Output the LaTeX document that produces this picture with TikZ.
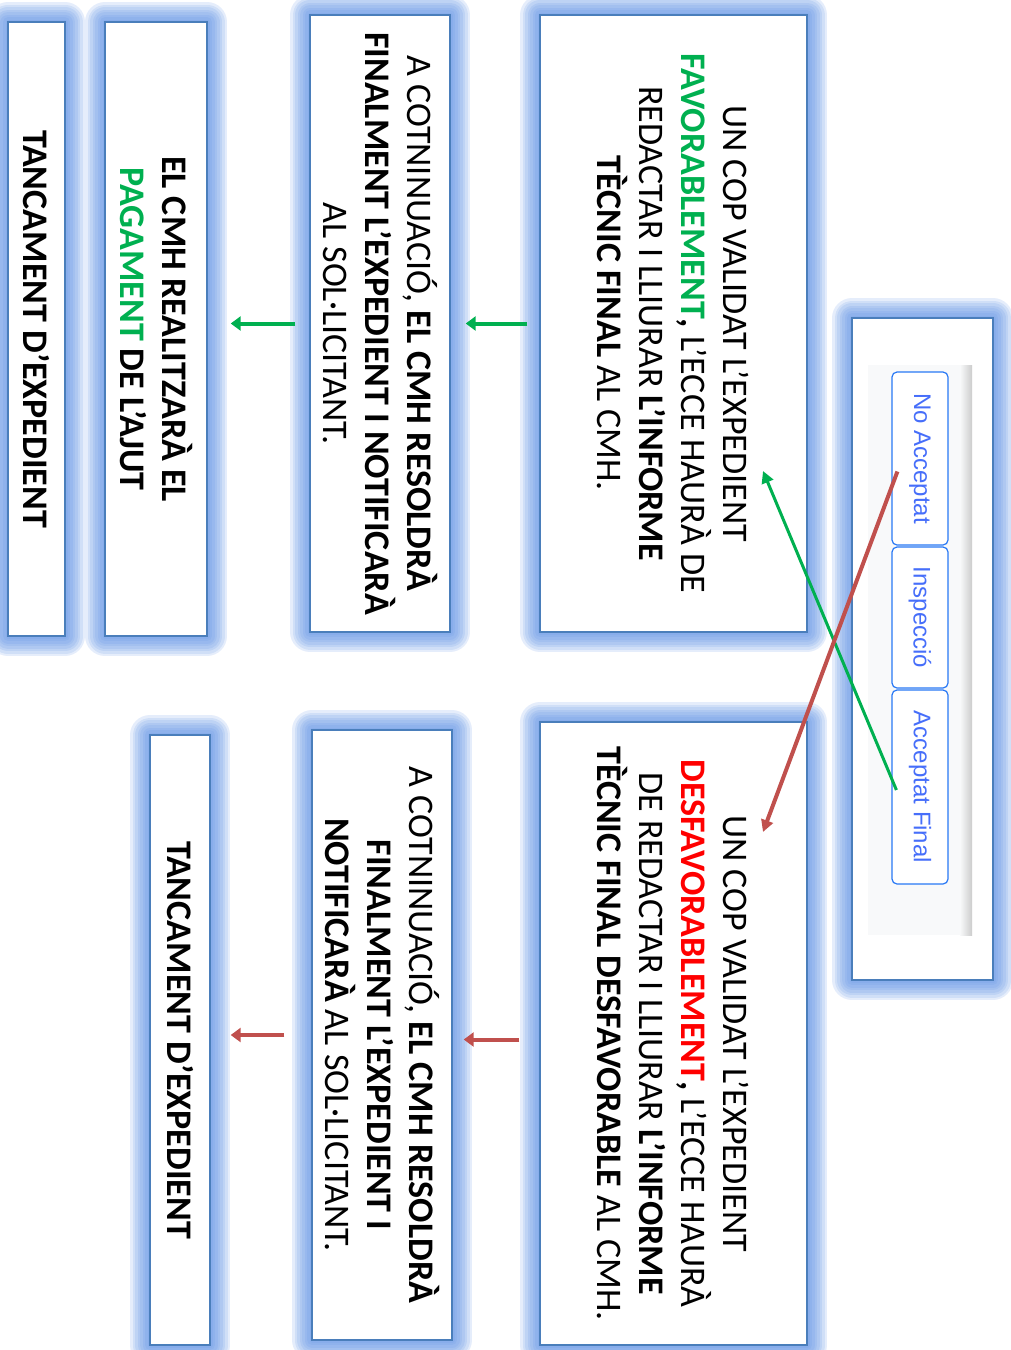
\documentclass[tikz,border=0pt]{standalone}
\usepackage{fontspec}
\setmainfont{Carlito}
\newfontfamily\uifont{Liberation Sans}
\usetikzlibrary{calc,positioning,arrows.meta,shapes}

\definecolor{okgreen}{RGB}{0,176,80}
\definecolor{okred}{RGB}{255,0,0}
\definecolor{arrowred}{RGB}{192,80,77}
\definecolor{boxline}{RGB}{74,126,187}
\definecolor{glowblue}{RGB}{96,146,228}
\definecolor{btnblue}{RGB}{40,120,245}
\definecolor{btntext}{RGB}{70,110,250}
\definecolor{panelgray}{RGB}{248,249,250}

\tikzset{
  glowring/.style={preaction={draw=glowblue, line join=round, line width=#1, draw opacity=.16}},
  glowbox/.style={draw=boxline, line width=0.7pt, fill=white, inner sep=0pt,
    glowring=20pt, glowring=17.5pt, glowring=15pt, glowring=12.5pt,
    glowring=10pt, glowring=7.5pt, glowring=5pt, glowring=2.5pt},
  textbox/.style={glowbox, rotate=-90, align=center,
    font=\fontsize{18}{21}\selectfont},
  button/.style={draw=btnblue, line width=0.6pt, fill=white, rounded corners=2.5pt,
    rotate=-90, minimum height=28pt, inner sep=0pt, text=btntext,
    font=\uifont\fontsize{12}{14}\selectfont},
  goarrow/.style={draw=okgreen, line width=2pt, -{Triangle[length=5pt,width=7pt]}},
  noarrow/.style={draw=arrowred, line width=2pt, -{Triangle[length=5pt,width=7pt]}},
  goline/.style={draw=okgreen, line width=1.5pt, -{Triangle[length=6pt,width=6pt]}},
  noline/.style={draw=arrowred, line width=2pt, -{Triangle[length=6pt,width=6pt]}}
}

\begin{document}
\begin{tikzpicture}[x=0.5pt,y=-0.5pt]
    \path[use as bounding box, clip] (0,0) rectangle (1011,1350);

    % favourable branch
    \node[textbox, minimum width=308.5pt, minimum height=133.5pt] (fav) at (673.5,323.5)
      {UN COP VALIDAT L’EXPEDIENT\\
       \textcolor{okgreen}{\textbf{FAVORABLEMENT}}\textbf{,} L’ECCE HAURÀ DE\\
       REDACTAR I LLIURAR \textbf{L’INFORME}\\
       \textbf{TÈCNIC FINAL} AL CMH.};
    \node[textbox, minimum width=308.5pt, minimum height=70pt] (res) at (380,323.5)
      {A COTNINUACIÓ, \textbf{EL CMH RESOLDRÀ}\\
       \textbf{FINALMENT L’EXPEDIENT I NOTIFICARÀ}\\
       AL SOL·LICITANT.};
    \node[textbox, minimum width=307pt, minimum height=51pt] (pag) at (156,329)
      {\textbf{EL CMH REALITZARÀ EL}\\
       \textbf{\textcolor{okgreen}{PAGAMENT} DE L’AJUT}};
    \node[textbox, minimum width=307pt, minimum height=28.5pt] (tanc) at (36.5,329)
      {\textbf{TANCAMENT D’EXPEDIENT}};

    % unfavourable branch
    \node[textbox, minimum width=311.5pt, minimum height=133.5pt] (desf) at (673.5,1033.5)
      {UN COP VALIDAT L’EXPEDIENT\\
       \textcolor{okred}{\textbf{DESFAVORABLEMENT}}\textbf{,} L’ECCE HAURÀ\\
       DE REDACTAR I LLIURAR \textbf{L’INFORME}\\
       \textbf{TÈCNIC FINAL DESFAVORABLE} AL CMH.};
    \node[textbox, minimum width=305pt, minimum height=70pt] (resd) at (382,1035)
      {A COTNINUACIÓ, \textbf{EL CMH RESOLDRÀ}\\
       \textbf{FINALMENT L’EXPEDIENT I}\\
       \textbf{NOTIFICARÀ} AL SOL·LICITANT.};
    \node[textbox, minimum width=305pt, minimum height=30pt] (tancd) at (180,1040)
      {\textbf{TANCAMENT D’EXPEDIENT}};

    % status menu
    \node[glowbox, minimum width=70.5pt, minimum height=331pt] (menu) at (922.5,649) {};
    \fill[panelgray] (868,365) rectangle (972,935);
    \shade[left color=panelgray, right color=black!20] (960,365) rectangle (972,935);
    \node[button, minimum width=86.5pt] (noacc) at (920,458.5) {No Acceptat};
    \node[button, minimum width=70.5pt] (insp) at (920,617.5) {Inspecció};
    \node[button, minimum width=97pt] (accfin) at (920,787) {Acceptat Final};

    % arrows
    \draw[goarrow, shorten <=6pt, shorten >=7.5pt] (fav.south) -- (fav.south -| res.north);
    \draw[goarrow, shorten <=7pt, shorten >=11.5pt] (res.south) -- (res.south -| pag.north);
    \draw[noarrow, shorten <=10pt, shorten >=5.5pt] ([yshift=-3pt]desf.south) -- ([yshift=-3pt]desf.south -| resd.north);
    \draw[noarrow, shorten <=13.5pt, shorten >=10pt] (resd.south) -- (resd.south -| tancd.north);

    \coordinate (favtip) at (763,471);
    \coordinate (desftip) at (763,832);
    \draw[goline] ([xshift=2.5pt,yshift=-1.5pt]accfin.south) -- (favtip);
    \draw[noline] ([xshift=3pt,yshift=-6.5pt]noacc.south) -- (desftip);
\end{tikzpicture}
\end{document}
